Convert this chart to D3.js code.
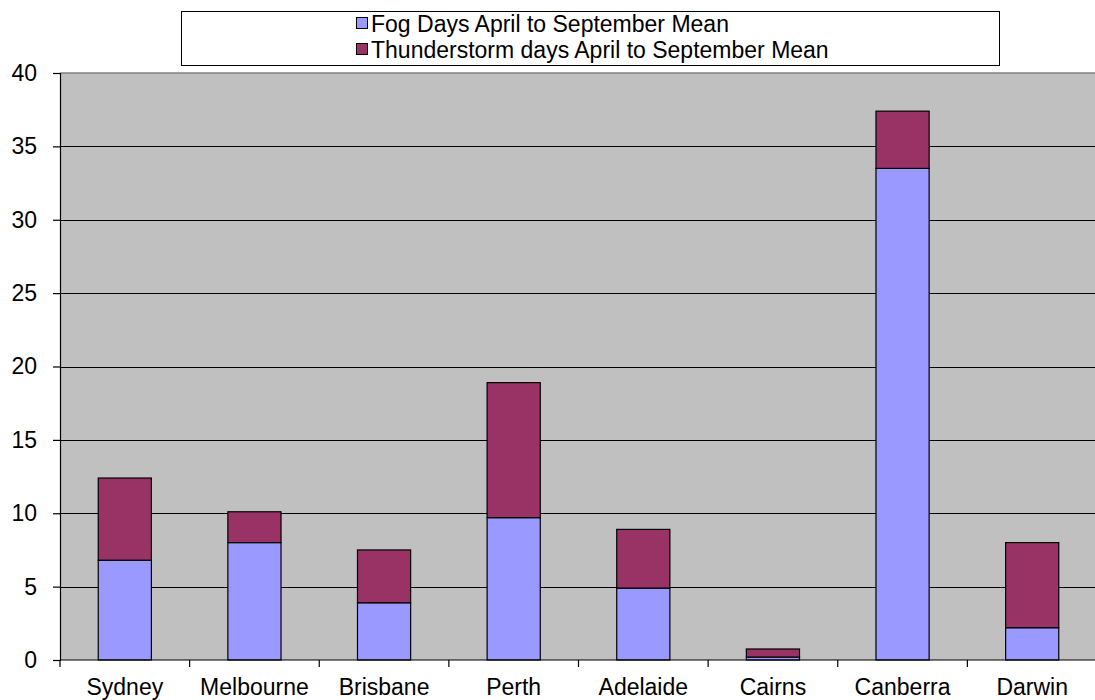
<!DOCTYPE html>
<html><head><meta charset="utf-8">
<script src="https://cdn.jsdelivr.net/npm/d3@7"></script>
<style>body{margin:0;background:#fff;overflow:hidden}text{font-family:"Liberation Sans",Arial,sans-serif;fill:#000}</style>
</head><body>
<svg id="c" width="1095" height="700"></svg>
<script>
const categories = ["Sydney","Melbourne","Brisbane","Perth","Adelaide","Cairns","Canberra","Darwin"];
const fogDays = [6.8, 8.0, 3.9, 9.7, 4.9, 0.2, 33.5, 2.2];
const thunderDays = [5.6, 2.1, 3.6, 9.2, 4.0, 0.55, 3.9, 5.8];
const seriesNames = ["Fog Days April to September Mean","Thunderstorm days April to September Mean"];
const seriesColors = ["#9999FF","#993366"];
const yTicks = [0,5,10,15,20,25,30,35,40];

const FS = 23;
const svg = d3.select("#c");
const L = 60, R = 1097, T = 73, B = 660;
const x = d3.scaleBand().domain(categories).range([L, R]).paddingInner(0.59).paddingOuter(0.295);
const xb = d3.scaleBand().domain(categories).range([L, R]);
const y = d3.scaleLinear().domain([0, 40]).range([B, T]);

svg.append("rect").attr("x", L).attr("y", T).attr("width", R - L).attr("height", B - T).attr("fill", "#C0C0C0");
svg.append("line").attr("x1", L).attr("x2", R).attr("y1", T).attr("y2", T).attr("stroke", "#808080").attr("stroke-width", 1.5);
svg.selectAll(".grid").data(yTicks.filter(d => d > 0 && d < 40)).join("line")
  .attr("x1", L).attr("x2", R).attr("y1", d => Math.round(y(d)) + 0.5).attr("y2", d => Math.round(y(d)) + 0.5)
  .attr("stroke", "#000").attr("stroke-width", 1.2);

const stack = d3.stack().keys([0, 1])(categories.map((c, i) => ({0: fogDays[i], 1: thunderDays[i], cat: c})));
stack.forEach((s, si) => {
  svg.selectAll(".s" + si).data(s).join("rect")
    .attr("x", d => x(d.data.cat)).attr("width", x.bandwidth())
    .attr("y", d => y(d[1])).attr("height", d => y(d[0]) - y(d[1]))
    .attr("fill", seriesColors[si]).attr("stroke", "#000").attr("stroke-width", 1.2);
});

// Y axis
const yAxis = d3.axisLeft(y).tickValues(yTicks).tickSize(7).tickPadding(16);
const gy = svg.append("g").attr("transform", `translate(${L},0)`).call(yAxis);
gy.select(".domain").attr("stroke", "#000").attr("stroke-width", 1.2);
gy.selectAll(".tick line").attr("stroke", "#000").attr("stroke-width", 1.2);
gy.selectAll(".tick text").attr("font-size", FS).attr("fill", "#000").attr("font-family", '"Liberation Sans",Arial,sans-serif');

// X axis
const gx = svg.append("g").attr("transform", `translate(0,${B})`);
gx.append("line").attr("x1", L).attr("x2", R).attr("stroke", "#000").attr("stroke-width", 1.2);
const bounds = categories.map(c => xb(c));
gx.selectAll(".xt").data(bounds).join("line")
  .attr("x1", d => d).attr("x2", d => d).attr("y1", 0).attr("y2", 7).attr("stroke", "#000").attr("stroke-width", 1.2);
gx.selectAll(".xl").data(categories).join("text")
  .attr("x", d => xb(d) + xb.bandwidth() / 2).attr("y", 35).attr("text-anchor", "middle").attr("font-size", FS).text(d => d);

// Legend
const lg = svg.append("g");
lg.append("rect").attr("x", 181.5).attr("y", 11.5).attr("width", 818).attr("height", 54).attr("fill", "#fff").attr("stroke", "#000").attr("stroke-width", 1);
seriesNames.forEach((n, i) => {
  const cy = 24 + i * 26;
  lg.append("rect").attr("x", 356.5).attr("y", cy - 6.5).attr("width", 11).attr("height", 11).attr("fill", seriesColors[i]).attr("stroke", "#000").attr("stroke-width", 1);
  lg.append("text").attr("x", 371).attr("y", cy + 8).attr("font-size", FS).text(n);
});
</script>
</body></html>
